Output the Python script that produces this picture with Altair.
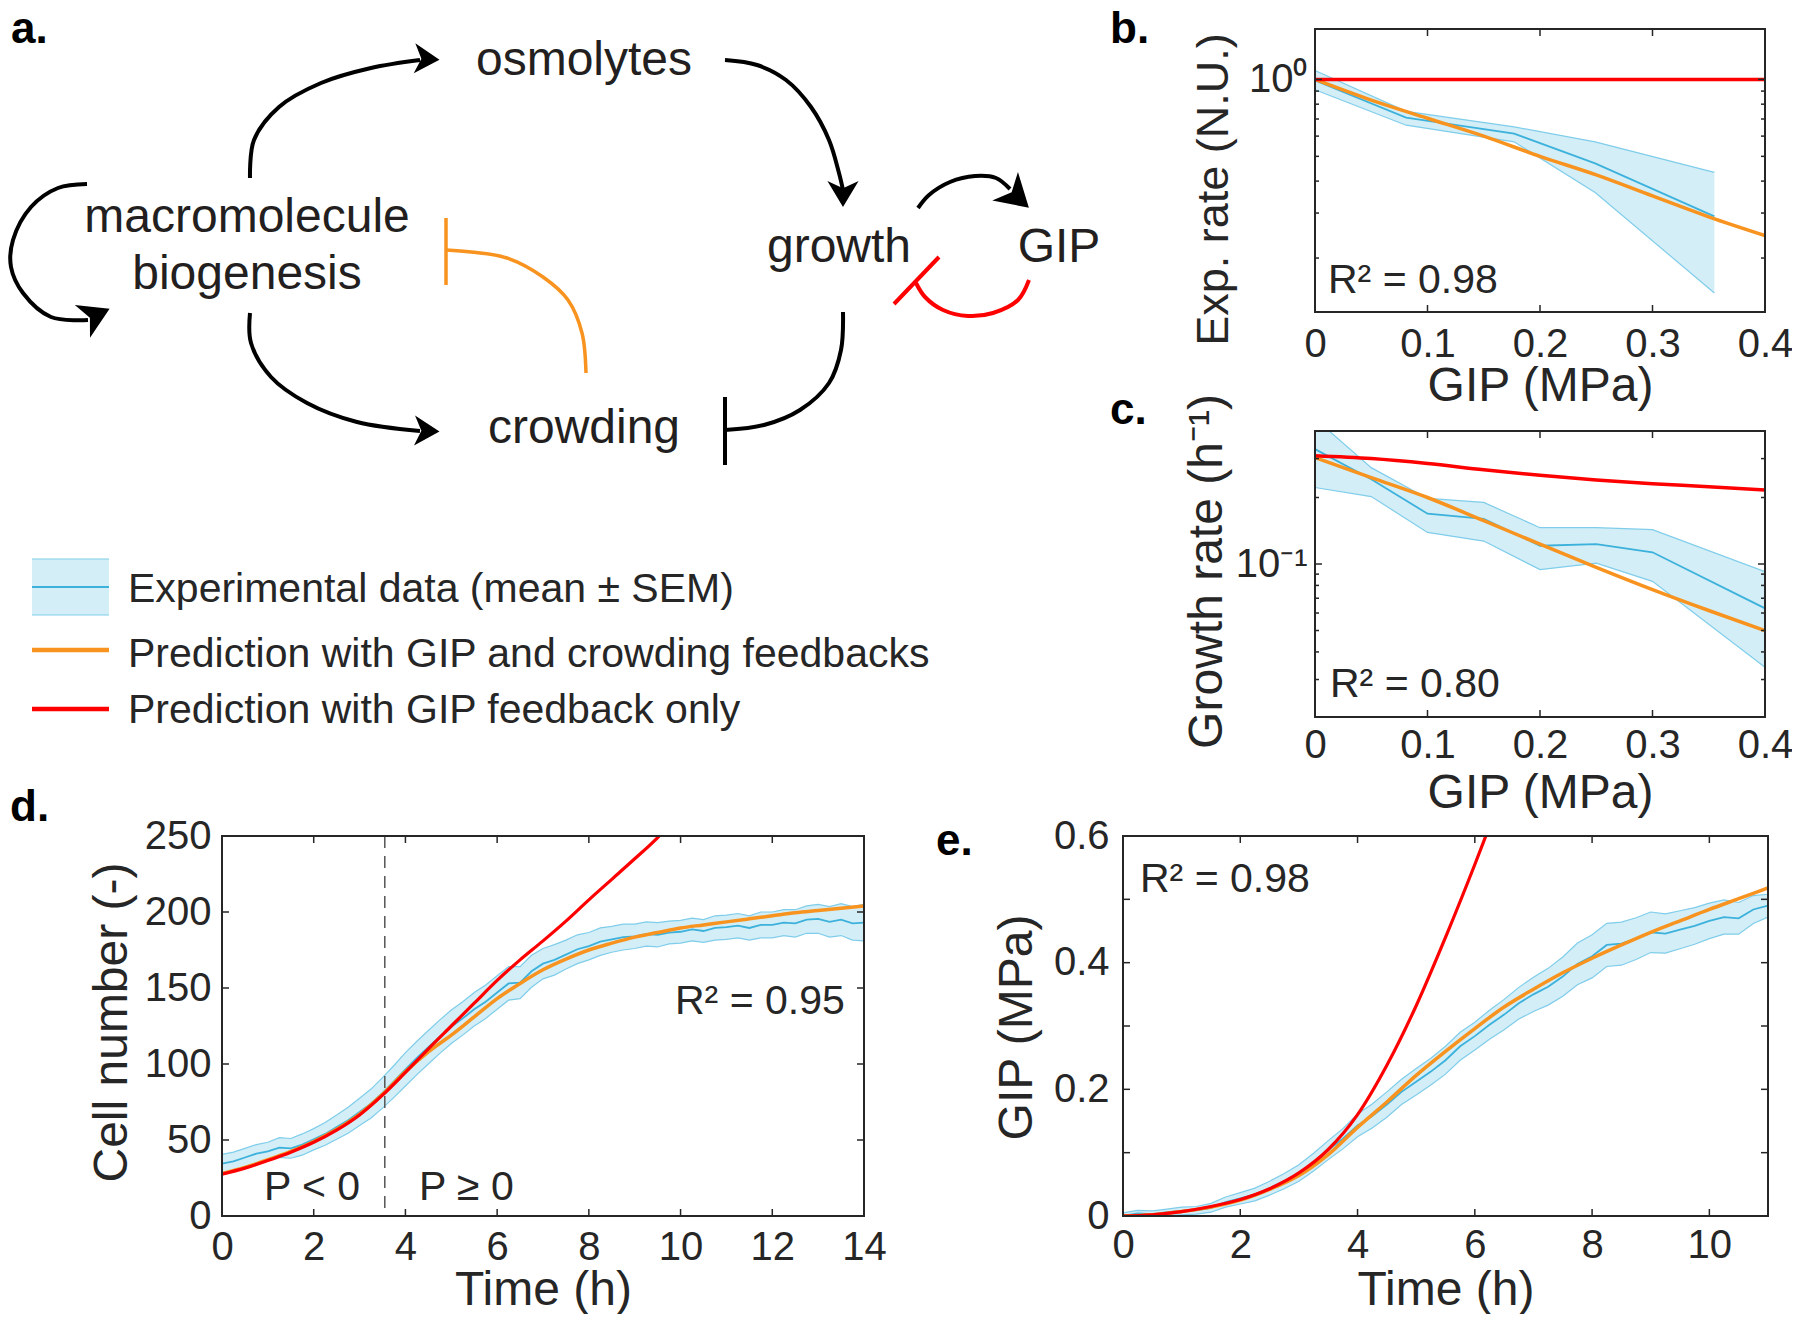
import altair as alt
import pandas as pd

FONT = "Liberation Sans"
INK = "#262626"
BAND_FILL = "#d3eef7"
BAND_EDGE = "#7fcdea"
MEAN_C = "#3cb1db"
ORANGE = "#f7931e"
RED = "#ff0000"

# ---------------- panel b : Exp. rate vs GIP ----------------
b_gip = [0, 0.081, 0.177, 0.249, 0.355]
b_mean = [0.990, 0.709, 0.614, 0.469, 0.291]
b_upper = [1.084, 0.750, 0.652, 0.570, 0.433]
b_lower = [0.911, 0.662, 0.570, 0.361, 0.146]
b_fit_gip = [0, 0.05, 0.10, 0.15, 0.20, 0.25, 0.30, 0.35, 0.40]
b_fit_both = [1.0, 0.83, 0.705, 0.60, 0.50, 0.423, 0.35, 0.29, 0.245]
b_fit_gip_only = [1.0, 1.0, 1.0, 1.0, 1.0, 1.0, 1.0, 1.0, 1.0]

# ---------------- panel c : Growth rate vs GIP ----------------
c_gip = [0, 0.05, 0.10, 0.15, 0.20, 0.25, 0.30, 0.40]
c_mean = [0.331, 0.242, 0.169, 0.160, 0.121, 0.123, 0.113, 0.063]
c_upper = [0.455, 0.273, 0.198, 0.190, 0.146, 0.146, 0.143, 0.0924]
c_lower = [0.222, 0.202, 0.139, 0.127, 0.0943, 0.101, 0.0835, 0.0341]
c_fit_gip = [0, 0.05, 0.10, 0.15, 0.20, 0.25, 0.30, 0.35, 0.40]
c_fit_both = [0.303, 0.246, 0.200, 0.157, 0.123, 0.0966, 0.0766, 0.0616, 0.050]
c_fit_gip_only = [0.309, 0.300, 0.285, 0.267, 0.252, 0.240, 0.231, 0.224, 0.216]

# ---------------- panel d : Cell number vs time ----------------
d_time = [0.25 * i for i in range(57)]
d_mean = [34.5, 36, 38.5, 41, 42.5,
          45, 44.5, 47, 50.5, 54,
          58.5, 63, 68.5, 74, 81,
          88.5, 96.5, 104, 111, 118,
          124.5, 130, 136, 141, 147,
          153, 153.5, 161, 166, 168.5,
          172, 175.5, 177.5, 180.5, 182,
          183.5, 184, 185.5, 185, 186.5,
          187, 188.5, 187.5, 189.5, 190,
          191, 189.5, 191.5, 191.5, 193,
          192.5, 195, 195.5, 193.5, 195,
          192.5, 193]
d_sem = [6, 6, 6, 6, 6,
         6.5, 6.5, 7, 7, 7.5,
         8, 8.5, 9, 9.5, 10,
         10.5, 11, 11, 11, 11,
         11, 11, 11, 11, 11,
         11, 10.5, 10.5, 10, 10,
         9.5, 9.5, 9, 9, 8.5,
         8.5, 8, 8, 8, 7.5,
         7.5, 7.5, 7.5, 8, 8,
         8, 8, 8.5, 8.5, 8.5,
         9, 9, 9.5, 10, 10.5,
         11, 12]
d_fit_time = [0, 0.5, 1, 1.5, 2, 2.5, 3, 3.5, 4, 4.5, 5, 5.5, 6, 6.5, 7, 7.5,
              8, 8.5, 9, 9.5, 10, 10.5, 11, 11.5, 12, 12.5, 13, 13.5, 14]
d_fit_both = [28, 32, 37, 42.5, 49, 57, 67, 80, 95, 108, 119, 131, 143, 153, 162,
              169, 175, 179.5, 183.5, 186.5, 189.5, 191.5, 193.5, 195.5, 197.5,
              199.5, 201, 202.5, 204]
d_red_time = [0, 0.5, 1, 1.5, 2, 2.5, 3, 3.5, 4, 4.5, 5, 5.5, 6, 6.5, 7, 7.5,
              8, 8.5, 9, 9.5, 9.75]
d_fit_gip_only = [27.5, 31.5, 36.5, 42, 48.5, 56.5, 66.5, 79.5, 94.5, 110, 125,
                  140, 155, 168.5, 181, 194, 208, 221.5, 235, 249, 257]
d_split = [3.55]

# ---------------- panel e : GIP vs time ----------------
e_time = [0.25 * i for i in range(45)]
e_mean = [0.000, 0.004, 0.003, 0.006, 0.008,
          0.009, 0.013, 0.022, 0.028, 0.034,
          0.044, 0.055, 0.068, 0.085, 0.104,
          0.122, 0.143, 0.158, 0.176, 0.196,
          0.212, 0.228, 0.246, 0.268, 0.284,
          0.302, 0.318, 0.336, 0.350, 0.362,
          0.378, 0.398, 0.410, 0.428, 0.430,
          0.438, 0.448, 0.446, 0.452, 0.458,
          0.466, 0.472, 0.470, 0.484, 0.490]
e_sem = [0.005, 0.005, 0.005, 0.005, 0.006,
         0.006, 0.007, 0.008, 0.009, 0.010,
         0.011, 0.012, 0.013, 0.014, 0.015,
         0.016, 0.018, 0.019, 0.020, 0.020,
         0.021, 0.021, 0.022, 0.022, 0.022,
         0.023, 0.024, 0.025, 0.027, 0.029,
         0.031, 0.033, 0.034, 0.034, 0.034,
         0.033, 0.032, 0.031, 0.030, 0.029,
         0.028, 0.027, 0.025, 0.022, 0.018]
e_fit_time = [0, 0.5, 1, 1.5, 2, 2.5, 3, 3.5, 4, 4.5, 5, 5.5, 6, 6.5, 7, 7.5,
              8, 8.5, 9, 9.5, 10, 10.5, 11]
e_fit_both = [0, 0.002, 0.007, 0.014, 0.025, 0.042, 0.064, 0.097, 0.14, 0.18,
              0.222, 0.26, 0.296, 0.33, 0.358, 0.384, 0.407, 0.428, 0.448,
              0.466, 0.484, 0.501, 0.518]
e_red_time = [0, 0.5, 1, 1.5, 2, 2.5, 3, 3.5, 4, 4.5, 5, 5.5, 6, 6.25]
e_fit_gip_only = [0, 0.002, 0.007, 0.015, 0.026, 0.043, 0.068, 0.105, 0.160,
                  0.238, 0.332, 0.44, 0.555, 0.615]

# ---------------- panel a : diagram (page pixel coordinates) ----------------
node_labels = ["osmolytes", "macromolecule", "biogenesis", "growth", "GIP", "crowding"]
node_x = [584, 247, 247, 839, 1059, 584]
node_y = [75, 232, 289, 262, 262, 443]

path_bio_osmo = [(250, 178), (254, 140), (279, 107), (321, 83), (371, 68), (420, 60)]
path_osmo_growth = [(725, 60), (757, 65), (786, 80), (811, 107), (829, 140), (839, 173), (843, 190)]
path_bio_crowd = [(250, 313), (251, 343), (271, 377), (307, 403), (357, 422), (420, 431)]
path_growth_crowd = [(843, 312), (841, 350), (829, 383), (800, 410), (764, 425), (725, 430)]
tee_crowd = [(725, 397), (725, 465)]
path_crowd_bio = [(586, 373), (582, 333), (568, 300), (543, 277), (507, 258), (471, 252), (446, 250)]
tee_bio = [(446, 218), (446, 285)]
path_self = [(87, 184), (58, 188), (31, 207), (13, 240), (11, 267), (23, 293), (51, 317), (88, 320)]
path_growth_gip = [(918, 208), (929, 195), (950, 182), (975, 176), (996, 178), (1010, 189)]
path_gip_growth = [(1029, 280), (1018, 300), (993, 313), (968, 316), (943, 310), (925, 297), (916, 283)]
tee_growth = [(939, 257), (894, 304)]

paths = [
    ("bio_osmo", path_bio_osmo, "#000000", 4),
    ("osmo_growth", path_osmo_growth, "#000000", 4),
    ("bio_crowd", path_bio_crowd, "#000000", 4),
    ("growth_crowd", path_growth_crowd, "#000000", 4),
    ("tee_crowd", tee_crowd, "#000000", 4),
    ("crowd_bio", path_crowd_bio, ORANGE, 3.5),
    ("tee_bio", tee_bio, ORANGE, 3.5),
    ("self", path_self, "#000000", 4),
    ("growth_gip", path_growth_gip, "#000000", 4),
    ("gip_growth", path_gip_growth, RED, 4),
    ("tee_growth", tee_growth, RED, 4),
]

head_x = [427, 843, 427, 96, 1017]
head_y = [59, 194, 431, 315, 197]
head_angle = [3, 90, 2, 335, 42]
head_r = [12.5, 13, 12.5, 15, 16]
HEAD = "M1,0L-1,-1.2L-0.45,0L-1,1.2Z"

legend_labels = ["Experimental data (mean ± SEM)",
                 "Prediction with GIP and crowding feedbacks",
                 "Prediction with GIP feedback only"]
legend_text_y = [602, 667, 723]

# page position of the layout origin (top-left of the d / diagram column)
OX, OY = 222, 29


# ---------------- helpers ----------------
def x_axis(title, values, fmt, title_x, pad, title_y):
    return alt.Axis(title=title, values=values, format=fmt, grid=False, domain=False,
                    ticks=False, tickSize=0, labelFont=FONT, labelFontSize=40,
                    labelColor=INK, labelPadding=pad, labelBaseline="middle",
                    labelFlush=False, labelOverlap=False, labelAngle=0,
                    titleFont=FONT, titleFontSize=48, titleFontWeight="normal",
                    titleColor=INK, titleX=title_x, titleY=title_y,
                    titleAlign="center", titleBaseline="alphabetic", titleAngle=0)


def y_axis(title, values, pad, title_x, title_y, fmt=None, expr=None, tsize=48, offset=0):
    kw = dict(title=title, values=values, grid=False, domain=False, ticks=False,
              tickSize=0, labelFont=FONT, labelFontSize=40, labelColor=INK,
              labelPadding=pad, labelBaseline="middle", labelAlign="right",
              labelFlush=False, labelOverlap=False, offset=offset,
              titleFont=FONT, titleFontSize=tsize, titleFontWeight="normal",
              titleColor=INK, titleX=title_x, titleY=title_y, titleAngle=270,
              titleAlign="center", titleBaseline="middle")
    if fmt:
        kw["format"] = fmt
    if expr:
        kw["labelExpr"] = expr
    return alt.Axis(**kw)


def text_layer(txt, px, py, size=41, bold=False, color=INK, align="left"):
    return alt.Chart(pd.DataFrame({"t": [txt]})).mark_text(
        font=FONT, fontSize=size, fontWeight="bold" if bold else "normal",
        color=color, align=align, baseline="alphabetic"
    ).encode(text="t:N", x=alt.value(px), y=alt.value(py))


def panel(x, mean, lo, hi, fits, xdom, ys, ax_x, ax_y, x0, W, H, xt, yt, yt_minor,
          texts, split=None):
    """Plot frame spans x0 .. x0+W inside a view of width x0+W."""
    xs = alt.Scale(domain=xdom, range=[x0, x0 + W], nice=False, zero=False)
    band_df = pd.DataFrame({"x": x, "mean": mean, "lo": lo, "hi": hi})
    base = alt.Chart(band_df)
    X = lambda f: alt.X(f, scale=xs, axis=ax_x)
    Y = lambda f: alt.Y(f, scale=ys, axis=ax_y)
    layers = [
        base.mark_area(color=BAND_FILL, opacity=1, clip=True).encode(
            x=X("x:Q"), y=Y("lo:Q"), y2="hi:Q"),
        base.mark_line(color=BAND_EDGE, strokeWidth=1.2, clip=True).encode(
            x=X("x:Q"), y=Y("hi:Q")),
        base.mark_line(color=BAND_EDGE, strokeWidth=1.2, clip=True).encode(
            x=X("x:Q"), y=Y("lo:Q")),
        base.mark_line(color=MEAN_C, strokeWidth=1.8, clip=True).encode(
            x=X("x:Q"), y=Y("mean:Q")),
    ]
    if split:
        layers.append(alt.Chart(pd.DataFrame({"v": split})).mark_rule(
            color="#555555", strokeWidth=1.5, strokeDash=[12, 8]).encode(x=X("v:Q")))
    for fx, fy, col, w in fits:
        fd = pd.DataFrame({"x": fx, "y": fy})
        layers.append(alt.Chart(fd).mark_line(color=col, strokeWidth=w, clip=True,
                                              interpolate="monotone").encode(
            x=X("x:Q"), y=Y("y:Q")))
    # inward MATLAB-style ticks on all four sides
    L, Lm = 7, 4
    r = alt.Chart(pd.DataFrame({"v": xt})).mark_rule(color=INK, strokeWidth=1.5)
    layers.append(r.encode(x=X("v:Q"), y=alt.value(H), y2=alt.value(H - L)))
    layers.append(r.encode(x=X("v:Q"), y=alt.value(0), y2=alt.value(L)))
    for vals, ln in ((yt, L), (yt_minor, Lm)):
        if vals:
            r2 = alt.Chart(pd.DataFrame({"v": vals})).mark_rule(color=INK, strokeWidth=1.5)
            layers.append(r2.encode(y=Y("v:Q"), x=alt.value(x0), x2=alt.value(x0 + ln)))
            layers.append(r2.encode(y=Y("v:Q"), x=alt.value(x0 + W), x2=alt.value(x0 + W - ln)))
    # box
    layers.append(alt.Chart(pd.DataFrame({"z": [0]})).mark_rect(
        fillOpacity=0, stroke=INK, strokeWidth=2).encode(
        x=alt.value(x0), x2=alt.value(x0 + W), y=alt.value(0), y2=alt.value(H)))
    for t in texts:
        txt, px, py = t[0], t[1], t[2]
        layers.append(text_layer(txt, px + x0, py, *t[3:]))
    return alt.layer(*layers).properties(width=x0 + W, height=H)


# ---------------- panel b ----------------
B0 = 192
Wb, Hb = 450, 283
ys_b = alt.Scale(type="log", domain=[0.123, 1.575], nice=False)
chart_b = panel(
    b_gip, b_mean, b_lower, b_upper,
    [(b_fit_gip, b_fit_both, ORANGE, 3.5), (b_fit_gip, b_fit_gip_only, RED, 3.5)],
    [0, 0.4], ys_b,
    x_axis("GIP (MPa)", [0, 0.1, 0.2, 0.3, 0.4], ".1~f", B0 + Wb / 2, 32, 88),
    y_axis("Exp. rate (N.U.)", [1], 8, -102, 160, expr="'10⁰'", tsize=45, offset=-B0),
    B0, Wb, Hb, [0.1, 0.2, 0.3], [1.0], [0.2, 0.3, 0.4, 0.5, 0.6, 0.7, 0.8, 0.9],
    [("b.", -205, 14, 44, True, "#000000"), ("R² = 0.98", 13, 264)])

# ---------------- panel c ----------------
Wc, Hc = 450, 286
ys_c = alt.Scale(type="log", domain=[0.0203, 0.40], nice=False)
chart_c = panel(
    c_gip, c_mean, c_lower, c_upper,
    [(c_fit_gip, c_fit_both, ORANGE, 3.5), (c_fit_gip, c_fit_gip_only, RED, 3.5)],
    [0, 0.4], ys_c,
    x_axis("GIP (MPa)", [0, 0.1, 0.2, 0.3, 0.4], ".1~f", B0 + Wc / 2, 28, 90),
    y_axis("Growth rate (h⁻¹)", [0.1], 8, -108, 140, expr="'10⁻¹'", offset=-B0),
    B0, Wc, Hc, [0.1, 0.2, 0.3], [0.1], [0.03, 0.04, 0.05, 0.06, 0.07, 0.08, 0.09, 0.2, 0.3],
    [("c.", -205, -7, 44, True, "#000000"), ("R² = 0.80", 15, 266)])

# ---------------- panel d ----------------
Wd, Hd = 642, 380
ys_d = alt.Scale(domain=[0, 250], nice=False)
chart_d = panel(
    d_time, d_mean, [m - s for m, s in zip(d_mean, d_sem)],
    [m + s for m, s in zip(d_mean, d_sem)],
    [(d_fit_time, d_fit_both, ORANGE, 3.5), (d_red_time, d_fit_gip_only, RED, 3.2)],
    [0, 14], ys_d,
    x_axis("Time (h)", [0, 2, 4, 6, 8, 10, 12, 14], "d", Wd / 2, 31, 88),
    y_axis("Cell number (-)", [0, 50, 100, 150, 200, 250], 11, -110, 186, fmt="d"),
    0, Wd, Hd, [2, 4, 6, 8, 10, 12], [50, 100, 150, 200], [],
    [("d.", -212, -15, 44, True, "#000000"), ("R² = 0.95", 453, 178),
     ("P < 0", 42, 364), ("P ≥ 0", 197, 364)],
    split=d_split)

# ---------------- panel e ----------------
We, He = 645, 380
ys_e = alt.Scale(domain=[0, 0.6], nice=False)
chart_e = panel(
    e_time, e_mean, [m - s for m, s in zip(e_mean, e_sem)],
    [m + s for m, s in zip(e_mean, e_sem)],
    [(e_fit_time, e_fit_both, ORANGE, 3.5), (e_red_time, e_fit_gip_only, RED, 3.2)],
    [0, 11], ys_e,
    x_axis("Time (h)", [0, 2, 4, 6, 8, 10], "d", We / 2, 29, 88),
    y_axis("GIP (MPa)", [0, 0.2, 0.4, 0.6], 14, -106, 191, fmt=".1~f"),
    0, We, He, [2, 4, 6, 8, 10], [0.1, 0.2, 0.3, 0.4, 0.5], [],
    [("e.", -187, 19, 44, True, "#000000"), ("R² = 0.98", 17, 56)])

# ---------------- panel a : diagram + legend ----------------
WA, HA = 642, 283
ax_s = alt.Scale(domain=[OX, OX + WA], nice=False, zero=False)
ay_s = alt.Scale(domain=[OY + HA, OY], nice=False, zero=False)
AX = lambda f: alt.X(f, scale=ax_s, axis=None)
AY = lambda f: alt.Y(f, scale=ay_s, axis=None)

rows = []
for name, pts, col, w in paths:
    for i, (px, py) in enumerate(pts):
        rows.append({"name": name, "i": i, "x": px, "y": py, "c": col, "w": w})
paths_df = pd.DataFrame(rows)

arrows = alt.Chart(paths_df).mark_line(interpolate="catmull-rom", strokeCap="butt").encode(
    x=AX("x:Q"), y=AY("y:Q"), detail="name:N", order="i:Q",
    color=alt.Color("c:N", scale=None), strokeWidth=alt.StrokeWidth("w:Q", scale=None))

heads_df = pd.DataFrame({"x": head_x, "y": head_y, "a": head_angle,
                         "s": [(2 * r) ** 2 for r in head_r]})
heads = alt.Chart(heads_df).mark_point(shape=HEAD, filled=True, opacity=1,
                                        color="#000000", strokeWidth=0).encode(
    x=AX("x:Q"), y=AY("y:Q"), angle=alt.Angle("a:Q", scale=None),
    size=alt.Size("s:Q", scale=None))

nodes = alt.Chart(pd.DataFrame({"t": node_labels, "x": node_x, "y": node_y})).mark_text(
    font=FONT, fontSize=48, align="center", baseline="alphabetic", color="#231f20").encode(
    x=AX("x:Q"), y=AY("y:Q"), text="t:N")

label_a = alt.Chart(pd.DataFrame({"t": ["a."], "x": [11], "y": [43]})).mark_text(
    font=FONT, fontSize=44, fontWeight="bold", align="left", baseline="alphabetic",
    color="#000000").encode(x=AX("x:Q"), y=AY("y:Q"), text="t:N")

leg_rect = alt.Chart(pd.DataFrame({"x1": [32], "x2": [109], "y1": [559], "y2": [615]})).mark_rect(
    color=BAND_FILL).encode(x=AX("x1:Q"), x2="x2:Q", y=AY("y1:Q"), y2="y2:Q")
leg_lines_df = pd.DataFrame({
    "x1": [32, 32, 32, 32, 32], "x2": [109, 109, 109, 109, 109],
    "y": [559, 615, 587, 650, 709],
    "c": [BAND_EDGE, BAND_EDGE, MEAN_C, ORANGE, RED],
    "w": [1.2, 1.2, 1.8, 4.5, 4.5]})
leg_lines = alt.Chart(leg_lines_df).mark_rule().encode(
    x=AX("x1:Q"), x2="x2:Q", y=AY("y:Q"),
    color=alt.Color("c:N", scale=None), strokeWidth=alt.StrokeWidth("w:Q", scale=None))
leg_text = alt.Chart(pd.DataFrame({"t": legend_labels, "x": [128] * 3, "y": legend_text_y})).mark_text(
    font=FONT, fontSize=41, align="left", baseline="alphabetic", color=INK).encode(
    x=AX("x:Q"), y=AY("y:Q"), text="t:N")

diagram = alt.layer(arrows, heads, nodes, label_a, leg_rect, leg_lines,
                    leg_text).properties(width=WA, height=HA)


def spacer(w, h):
    return alt.Chart(pd.DataFrame({"z": [0]})).mark_point(opacity=0).encode(
        x=alt.value(0), y=alt.value(0)).properties(width=w, height=h)


chart = alt.concat(
    diagram, chart_b,
    spacer(WA, Hc), chart_c,
    chart_d, chart_e,
    columns=2, bounds="flush",
    spacing={"row": 119, "column": 259},
    autosize=alt.AutoSizeParams(type="none"),
    padding={"left": OX - 8, "top": OY - 8, "right": 1784 - (OX - 8), "bottom": 1306 - (OY - 8)},
    background="white",
).configure(font=FONT).configure_view(strokeWidth=0)

chart.save("out.html", embed_options={"renderer": "svg", "actions": False})
